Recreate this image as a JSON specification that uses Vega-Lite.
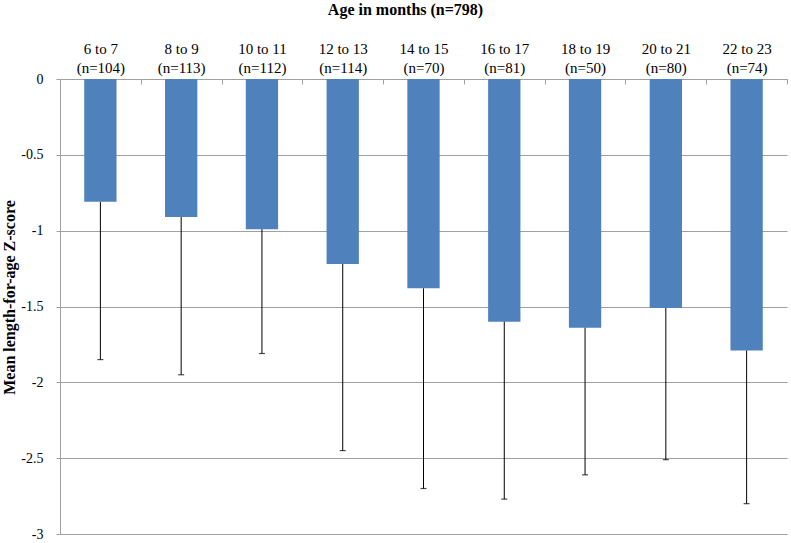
{
  "$schema": "https://vega.github.io/schema/vega-lite/v6.json",
  "width": 727,
  "height": 455,
  "autosize": {"type": "none"},
  "padding": {"left": 60, "top": 79, "right": 4, "bottom": 9},
  "background": "white",
  "config": {
    "font": "Liberation Serif",
    "view": {"stroke": null}
  },
  "title": {
    "text": "Age in months (n=798)",
    "font": "Liberation Serif",
    "fontSize": 16,
    "fontWeight": "bold",
    "color": "black",
    "anchor": "middle",
    "dx": -18,
    "offset": 23
  },
  "data": {
    "values": [
      {"age": "6 to 7\n(n=104)", "mean": -0.81, "low": -1.85},
      {"age": "8 to 9\n(n=113)", "mean": -0.91, "low": -1.95},
      {"age": "10 to 11\n(n=112)", "mean": -0.99, "low": -1.81},
      {"age": "12 to 13\n(n=114)", "mean": -1.22, "low": -2.45},
      {"age": "14 to 15\n(n=70)", "mean": -1.38, "low": -2.7},
      {"age": "16 to 17\n(n=81)", "mean": -1.6, "low": -2.77},
      {"age": "18 to 19\n(n=50)", "mean": -1.64, "low": -2.61},
      {"age": "20 to 21\n(n=80)", "mean": -1.51, "low": -2.51},
      {"age": "22 to 23\n(n=74)", "mean": -1.79, "low": -2.8}
    ]
  },
  "encoding": {
    "x": {
      "field": "age",
      "type": "nominal",
      "sort": null,
      "scale": {"paddingInner": 0, "paddingOuter": 0},
      "axis": {
        "orient": "top",
        "title": null,
        "labelAngle": 0,
        "labelExpr": "datum.value ? split(datum.value, '\\n') : ''",
        "labelLineHeight": 19,
        "labelFontSize": 15,
        "labelColor": "black",
        "labelPadding": 31,
        "labelBaseline": "alphabetic",
        "tickBand": "extent",
        "tickSize": -5,
        "tickColor": "#a0a0a0",
        "domainColor": "#a0a0a0",
        "grid": false
      }
    }
  },
  "layer": [
    {
      "mark": {"type": "bar", "color": "#4F81BD", "width": {"band": 0.4}},
      "encoding": {
        "y": {
          "field": "mean",
          "type": "quantitative",
          "scale": {"domain": [-3, 0], "nice": false, "zero": false},
          "axis": {
            "title": "Mean length-for-age Z-score",
            "titleFontSize": 16,
            "titleFontWeight": "bold",
            "titleColor": "black",
            "titlePadding": 3,
            "titleY": 218,
            "values": [0, -0.5, -1, -1.5, -2, -2.5, -3],
            "labelExpr": "datum.value == 0 ? '0' : '-' + format(-datum.value, '~g')",
            "labelFontSize": 14,
            "labelColor": "black",
            "labelPadding": 13,
            "tickSize": 4,
            "tickColor": "#a0a0a0",
            "domainColor": "#a0a0a0",
            "gridColor": "#a0a0a0",
            "grid": true
          }
        }
      }
    },
    {
      "mark": {"type": "rule", "color": "black", "strokeWidth": 1},
      "encoding": {
        "y": {"field": "mean", "type": "quantitative"},
        "y2": {"field": "low"}
      }
    },
    {
      "mark": {"type": "tick", "color": "black", "orient": "horizontal", "size": 6, "thickness": 1.2},
      "encoding": {
        "y": {"field": "low", "type": "quantitative"}
      }
    }
  ]
}
